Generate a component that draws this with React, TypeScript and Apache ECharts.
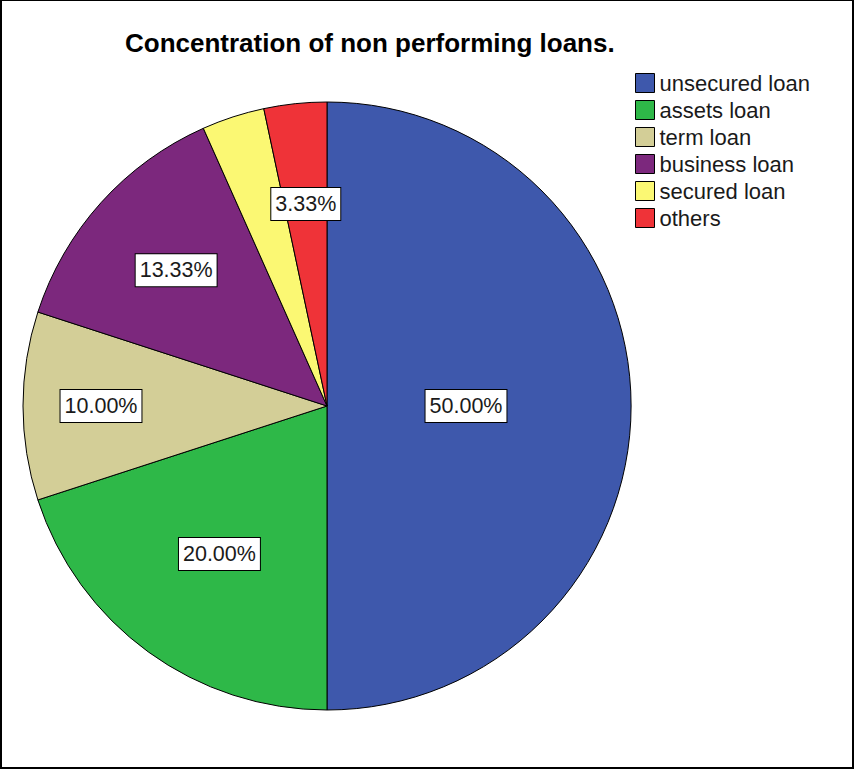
import React, { useEffect, useRef } from "react";
import * as echarts from "echarts";

const titleText = "Concentration of non performing loans.";
const categories = ["unsecured loan", "assets loan", "term loan", "business loan", "secured loan", "others"];
const counts = [15, 6, 3, 4, 1, 1];
const sliceColors = ["#3E58AC", "#2EB848", "#D3CE97", "#7C287D", "#FBF873", "#EF3338"];
// which slices carry a visible percentage label
const labelShown = [true, true, true, true, false, true];

const FONT = "'Liberation Sans', Arial, sans-serif";

export default function App() {
  const ref = useRef<HTMLDivElement>(null);
  useEffect(() => {
    if (!ref.current) return;
    const chart = echarts.init(ref.current, undefined, { renderer: "svg" });
    const center = [327, 406];
    const R = 304;
    const total = counts.reduce((a, b) => a + b, 0);
    // label distance from centre for each slice (layout only)
    const labelDist = [136, 180, 223, 200, 200, 200];

    const baseData = categories.map((name, i) => ({
      name,
      value: counts[i],
      itemStyle: { color: sliceColors[i] },
    }));

    const groups: number[] = Array.from(new Set(labelDist));
    const overlays = groups.map((d) => ({
      type: "pie",
      silent: true,
      legendHoverLink: false,
      center,
      radius: [0, 2 * d],
      startAngle: 90,
      clockwise: true,
      avoidLabelOverlap: false,
      labelLine: { show: false },
      emphasis: { disabled: true },
      itemStyle: { color: "rgba(0,0,0,0)", borderWidth: 0 },
      data: categories.map((name, i) => ({
        name,
        value: counts[i],
        itemStyle: { color: "rgba(0,0,0,0)", borderWidth: 0 },
        label: {
          show: labelShown[i] && labelDist[i] === d,
        },
      })),
      label: {
        position: "inside",
        formatter: (p: any) => ((p.value / total) * 100).toFixed(2) + "%",
        fontFamily: FONT,
        fontSize: 21.5,
        lineHeight: 22,
        color: "#1a1a1a",
        backgroundColor: "#ffffff",
        borderColor: "#000000",
        borderWidth: 1,
        padding: [6, 4, 4, 4],
      },
    }));

    chart.setOption({
      animation: false,
      backgroundColor: "#ffffff",
      title: {
        text: titleText,
        left: 125,
        top: 30,
        padding: 0,
        textStyle: { fontFamily: FONT, fontSize: 26, fontWeight: "bold", color: "#000" },
      },
      legend: {
        orient: "vertical",
        left: 635,
        top: 72,
        padding: 0,
        itemWidth: 19,
        itemHeight: 19,
        itemGap: 5,
        icon: "rect",
        data: categories,
        selectedMode: false,
        itemStyle: { borderColor: "#000", borderWidth: 1 },
        textStyle: { fontFamily: FONT, fontSize: 22, lineHeight: 19, color: "#1a1a1a" },
      },
      graphic: [
        {
          type: "rect",
          shape: { x: 1, y: 0, width: 852, height: 768 },
          style: { fill: "none", stroke: "#000", lineWidth: 2 },
          z: 100,
        },
      ],
      series: [
        {
          type: "pie",
          center,
          radius: [0, R],
          startAngle: 90,
          clockwise: true,
          label: { show: false },
          labelLine: { show: false },
          emphasis: { disabled: true },
          itemStyle: { borderColor: "#000", borderWidth: 1 },
          data: baseData,
        },
        ...overlays,
      ],
    });
    return () => chart.dispose();
  }, []);
  return (
    <div
      ref={ref}
      style={{ position: "fixed", left: 0, top: 0, width: 855, height: 769, background: "#fff" }}
    />
  );
}
